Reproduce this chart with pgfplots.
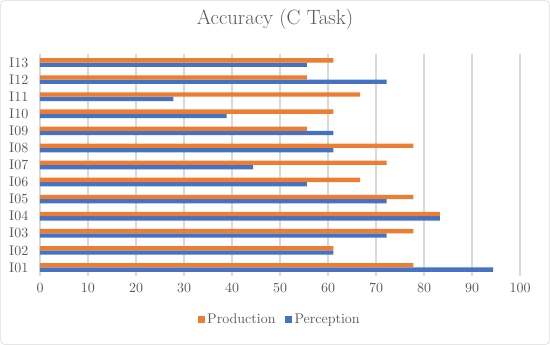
\documentclass[border=0pt]{standalone}
\usepackage{pgfplots}
\pgfplotsset{compat=1.18}
\definecolor{prod}{HTML}{ED7D31}
\definecolor{perc}{HTML}{4472C4}
\definecolor{txt}{HTML}{595959}
\definecolor{grd}{HTML}{D9D9D9}
\begin{document}
\begin{tikzpicture}
\useasboundingbox (0,0) rectangle (412.5pt,258.75pt);
\draw[grd, rounded corners=3pt] (0.4pt,0.4pt) rectangle (412.1pt,258.35pt);
\node[txt, font=\fontsize{15.5}{18}\selectfont] at (206.25pt,244.5pt) {Accuracy (C Task)};
\begin{axis}[
  at={(30pt,51.75pt)}, anchor=south west,
  scale only axis, width=360pt, height=166.5pt,
  xbar=0pt, bar width=3.25pt,
  xmin=0, xmax=100, xtick={0,10,...,100},
  ymin=0.5, ymax=13.5, ytick={1,...,13},
  yticklabels={I01,I02,I03,I04,I05,I06,I07,I08,I09,I10,I11,I12,I13},
  xmajorgrids, major grid style={grd, line width=0.8pt},
  axis line style={draw=none},
  axis x line*=bottom, axis y line*=left,
  y axis line style={draw=grd, line width=0.8pt},
  tick style={draw=none},
  ticklabel style={txt, font=\fontsize{10.5}{12}\selectfont},
  /pgf/number format/assume math mode=true,
  xticklabel style={yshift=-2pt},
  yticklabel style={xshift=-1pt},
  legend style={at={(0.5,-0.198)}, anchor=center, draw=none, fill=none, legend columns=2,
    font=\fontsize{10.5}{12}\selectfont, text=txt, /tikz/every even column/.append style={column sep=5pt},
    /tikz/every odd column/.append style={inner sep=1pt}},
  reverse legend,
  legend image code/.code={\fill[#1] (0pt,-2.6pt) rectangle (5.2pt,2.6pt);},
]
\addplot[draw=none, fill=perc] coordinates {
(94.4,1) (61.1,2) (72.2,3) (83.3,4) (72.2,5) (55.6,6) (44.4,7) (61.1,8) (61.1,9) (38.9,10) (27.8,11) (72.2,12) (55.6,13)};
\addplot[draw=none, fill=prod] coordinates {
(77.8,1) (61.1,2) (77.8,3) (83.3,4) (77.8,5) (66.7,6) (72.2,7) (77.8,8) (55.6,9) (61.1,10) (66.7,11) (55.6,12) (61.1,13)};
\legend{Perception, Production}
\end{axis}
\end{tikzpicture}
\end{document}
